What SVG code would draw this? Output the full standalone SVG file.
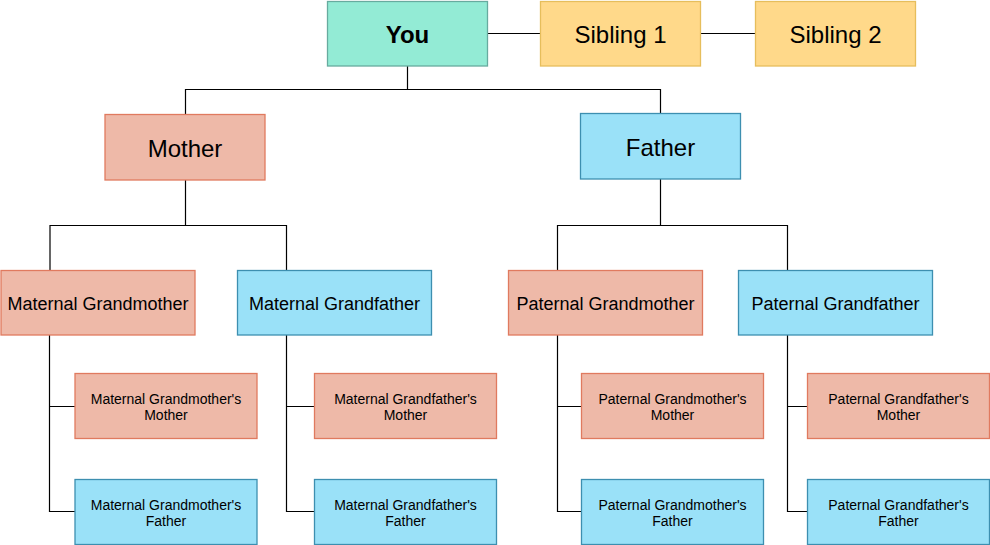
<svg xmlns="http://www.w3.org/2000/svg" width="990" height="545" viewBox="0 0 990 545">
<style>
text{font-family:"Liberation Sans",Arial,sans-serif;fill:#000;text-anchor:middle;dominant-baseline:central}
.you{fill:#93EBD5;stroke:#67AB9F}
.sib{fill:#FFD98A;stroke:#E6BE5C}
.f{fill:#EEB9A8;stroke:#E07A5F}
.m{fill:#9AE1F8;stroke:#3D8FB0}
rect{stroke-width:1.3}
.c{fill:none;stroke:#000;stroke-width:1.2}
.t1{font-size:24px}
.t2{font-size:18px}
.t3{font-size:14px}
</style>
<rect width="990" height="545" fill="#fff"/>
<g id="connectors">
<path class="c" d="M487.5 33.5H540.5M700.5 33.5H755.5"/>
<path class="c" d="M407.5 66V89.5M185.5 114V89.5H660.5V113"/>
<path class="c" d="M185.5 180V225.5M50 270V225.5H286.5V270"/>
<path class="c" d="M660.5 179V225.5M557.5 270V225.5H787.5V270"/>
<path class="c" d="M49.5 335V511.5H75M49.5 406.5H75"/>
<path class="c" d="M286.5 335V511.5H314M286.5 406.5H314"/>
<path class="c" d="M557.5 335V511.5H581M557.5 406.5H581"/>
<path class="c" d="M787.5 335V511.5H807M787.5 406.5H807"/>
</g>
<g id="you"><rect class="you" x="327.5" y="1.5" width="160" height="64.5"/><text x="407.5" y="34" class="t1" font-weight="bold">You</text></g>
<g id="sibling1"><rect class="sib" x="540.5" y="1.5" width="160" height="64.5"/><text x="620.5" y="34" class="t1">Sibling 1</text></g>
<g id="sibling2"><rect class="sib" x="755.5" y="1.5" width="160" height="64.5"/><text x="835.5" y="34" class="t1">Sibling 2</text></g>
<g id="mother"><rect class="f" x="105" y="114.5" width="160" height="65.5"/><text x="185" y="148" class="t1">Mother</text></g>
<g id="father"><rect class="m" x="580.5" y="113.5" width="160" height="65.5"/><text x="660.5" y="147" class="t1">Father</text></g>
<g id="mgm"><rect class="f" x="1" y="270.5" width="194" height="64.5"/><text x="98" y="303.5" class="t2">Maternal Grandmother</text></g>
<g id="mgf"><rect class="m" x="237.5" y="270.5" width="194" height="64.5"/><text x="334.5" y="303.5" class="t2">Maternal Grandfather</text></g>
<g id="pgm"><rect class="f" x="508.5" y="270.5" width="194" height="64.5"/><text x="605.5" y="303.5" class="t2">Paternal Grandmother</text></g>
<g id="pgf"><rect class="m" x="738.5" y="270.5" width="194" height="64.5"/><text x="835.5" y="303.5" class="t2">Paternal Grandfather</text></g>
<g id="mgm-mother"><rect class="f" x="75" y="373.5" width="182" height="65"/><text x="166" y="398.5" class="t3">Maternal Grandmother's</text><text x="166" y="414.5" class="t3">Mother</text></g>
<g id="mgm-father"><rect class="m" x="75" y="479.5" width="182" height="65"/><text x="166" y="504.5" class="t3">Maternal Grandmother's</text><text x="166" y="520.5" class="t3">Father</text></g>
<g id="mgf-mother"><rect class="f" x="314.5" y="373.5" width="182" height="65"/><text x="405.5" y="398.5" class="t3">Maternal Grandfather's</text><text x="405.5" y="414.5" class="t3">Mother</text></g>
<g id="mgf-father"><rect class="m" x="314.5" y="479.5" width="182" height="65"/><text x="405.5" y="504.5" class="t3">Maternal Grandfather's</text><text x="405.5" y="520.5" class="t3">Father</text></g>
<g id="pgm-mother"><rect class="f" x="581.5" y="373.5" width="182" height="65"/><text x="672.5" y="398.5" class="t3">Paternal Grandmother's</text><text x="672.5" y="414.5" class="t3">Mother</text></g>
<g id="pgm-father"><rect class="m" x="581.5" y="479.5" width="182" height="65"/><text x="672.5" y="504.5" class="t3">Paternal Grandmother's</text><text x="672.5" y="520.5" class="t3">Father</text></g>
<g id="pgf-mother"><rect class="f" x="807.5" y="373.5" width="182" height="65"/><text x="898.5" y="398.5" class="t3">Paternal Grandfather's</text><text x="898.5" y="414.5" class="t3">Mother</text></g>
<g id="pgf-father"><rect class="m" x="807.5" y="479.5" width="182" height="65"/><text x="898.5" y="504.5" class="t3">Paternal Grandfather's</text><text x="898.5" y="520.5" class="t3">Father</text></g>
</svg>
